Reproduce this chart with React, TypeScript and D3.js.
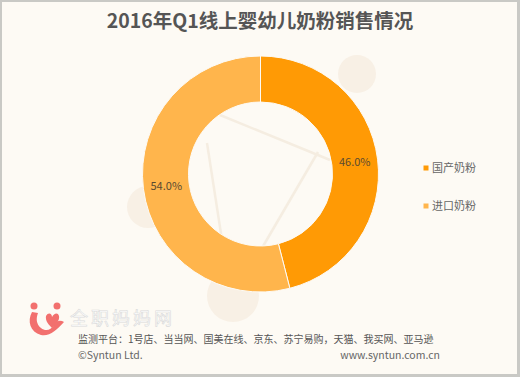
import React from "react";
import * as d3 from "d3";

const categories = ["国产奶粉", "进口奶粉"];
const values = [46.0, 54.0];
const colors = ["#FF9A05", "#FFB54C"];
const title = "2016年Q1线上婴幼儿奶粉销售情况";
const sourceText = "监测平台：1号店、当当网、国美在线、京东、苏宁易购，天猫、我买网、亚马逊";
const copyright = "©Syntun Ltd.";
const website = "www.syntun.com.cn";
const watermark = "全职妈妈网";

const W = 520;
const H = 377;
const cx = 260.5;
const cy = 174;
const outerR = 118;
const innerR = 72;

export default function App() {
  const pie = d3.pie<number>().sort(null).value((d) => d)(values);
  const arc = d3.arc<d3.PieArcDatum<number>>().innerRadius(innerR).outerRadius(outerR);
  const labelArc = d3.arc<d3.PieArcDatum<number>>().innerRadius(95).outerRadius(95);
  const font = "'Noto Sans CJK SC', 'Noto Sans', sans-serif";
  const legendY = d3.scalePoint<string>().domain(categories).range([168, 206]);

  return (
    <div style={{ position: "fixed", left: 0, top: 0 }}>
      <svg width={W} height={H} style={{ display: "block" }} fontFamily={font}>
        <rect x={0} y={0} width={W} height={H} fill="#C9C9C5" />
        <rect x={2} y={2} width={W - 5} height={H - 5} fill="#FDFAF4" />
        {/* decorative background */}
        <g fill="#F8F0E5">
          <circle cx={357} cy={74} r={19} />
          <circle cx={148} cy={207} r={21} />
          <circle cx={233} cy={296} r={26} />
        </g>
        <g stroke="#F5EDE1" strokeWidth={2.5} fill="none">
          <line x1={220} y1={115} x2={330} y2={160} />
          <line x1={207} y1={143} x2={222} y2={240} />
          <line x1={318} y1={152} x2={262} y2={248} />
        </g>
        <text x={W / 2} y={28} textAnchor="middle" fontSize={19.5} fontWeight="bold" fill="#555">
          {title}
        </text>
        <g transform={`translate(${cx},${cy})`}>
          {pie.map((d, i) => (
            <path key={i} d={arc(d) || ""} fill={colors[i]} stroke="#FDFAF4" strokeWidth={1} />
          ))}
          {pie.map((d, i) => {
            const [x, y] = labelArc.centroid(d);
            return (
              <text key={i} x={x} y={y} textAnchor="middle" dy="0.35em" fontSize={11} fill="#5a4a30">
                {d.data.toFixed(1)}%
              </text>
            );
          })}
        </g>
        {categories.map((c, i) => (
          <g key={c} transform={`translate(426,${legendY(c)})`}>
            <rect x={-2.5} y={-2.5} width={5} height={5} fill={colors[i]} />
            <text x={6} y={0} dy="0.35em" fontSize={11} fill="#666">
              {c}
            </text>
          </g>
        ))}
        {/* logo */}
        <g fill="#F2706E">
          <circle cx={34} cy={306} r={3.5} />
          <circle cx={57} cy={306} r={3.5} />
          <path d="M32,312 C27,321 30,332 41,335 C49,337 57,330 64,322 C61,320 57,320 55,324 C51,330 46,332 41,328 C36,324 36,318 38,313 Z" />
          <path d="M46,316 C48,312 52,313 52,317 C54,313 58,312 59,316 C60,321 55,325 52,328 C49,325 45,321 46,316 Z" />
        </g>
        <text x={70} y={325} fontSize={18} fill="#FFFFFF" stroke="#DADADA" strokeWidth={0.6} letterSpacing={3}>
          {watermark}
        </text>
        <text x={78} y={343} fontSize={10} fill="#555">
          {sourceText}
        </text>
        <text x={78} y={359} fontSize={10.5} fill="#666">
          {copyright}
        </text>
        <text x={440} y={359} textAnchor="end" fontSize={10.5} fill="#666">
          {website}
        </text>
      </svg>
    </div>
  );
}
